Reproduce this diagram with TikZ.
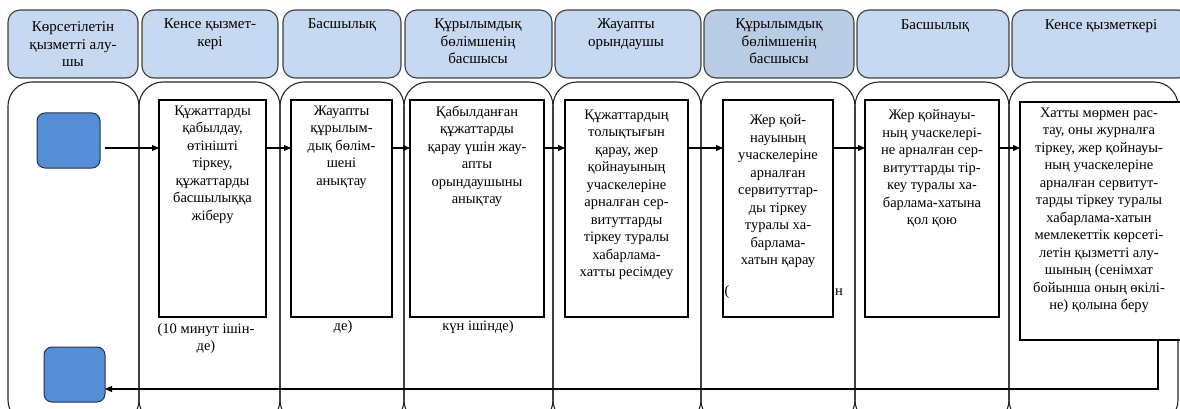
\documentclass[tikz,border=0pt]{standalone}
\usepackage{fontspec}
\setmainfont{Liberation Serif}
\newfontfamily\tnr{Liberation Serif}
\usetikzlibrary{arrows.meta,calc}
\definecolor{hdrfill}{RGB}{198,217,241}
\definecolor{hdrfillB}{RGB}{184,204,228}
\definecolor{sqfill}{RGB}{85,142,213}
\definecolor{sqdraw}{RGB}{35,50,80}
\definecolor{hdrdraw}{RGB}{64,64,64}
\begin{document}
\begin{tikzpicture}[x=1pt,y=-1pt,
  every node/.style={inner sep=0pt, outer sep=0pt},
  lane/.style={draw=black!85, line width=1.1pt, rounded corners=24pt},
  hdr/.style={draw=hdrdraw, fill=hdrfill, line width=1.1pt, rounded corners=12pt},
  txt/.style={font=\tnr\fontsize{14.5}{17.5}\selectfont, align=center, anchor=north},
  htxt/.style={font=\tnr\fontsize{15}{17.5}\selectfont, align=center, anchor=north},
  stepbox/.style={draw=black, fill=white, line width=1.2pt},
  sq/.style={draw=sqdraw, fill=sqfill, line width=1pt, rounded corners=8pt},
  arr/.style={draw=black, line width=1.1pt, -{Triangle[length=7pt,width=6pt]}}
]
\useasboundingbox (0,0) rectangle (1180,409);
\clip (0,0) rectangle (1180,409);
\fill[white] (0,0) rectangle (1180,409);

% lanes
\draw[lane] (8,82) rectangle (139,424);
\draw[lane] (139,82) rectangle (280,424);
\draw[lane] (280,82) rectangle (404,424);
\draw[lane] (404,82) rectangle (553,424);
\draw[lane] (553,82) rectangle (701,424);
\draw[lane] (701,82) rectangle (855,424);
\draw[lane] (855,82) rectangle (1009,424);
\draw[lane] (1009,82) rectangle (1178,424);

% headers
\draw[hdr] (8,10) rectangle (138,78);
\draw[hdr] (142,10) rectangle (278,78);
\draw[hdr] (283,10) rectangle (401,78);
\draw[hdr] (405,10) rectangle (552,78);
\draw[hdr] (555,10) rectangle (701,78);
\draw[hdr, fill=hdrfillB] (704,10) rectangle (854,78);
\draw[hdr] (857,10) rectangle (1009,78);
\draw[hdr] (1012,10) rectangle (1190,78);

\node[htxt] (h1) at (73,22) {Көрсетілетін\\қызметті алу-\\шы};
\node[htxt] (h2) at (210,19) {Кенсе қызмет-\\кері};
\node[htxt] (h3) at (342,19) {Басшылық};
\node[htxt] (h4) at (478,19) {Құрылымдық\\бөлімшенің\\басшысы};
\node[htxt] (h5) at (626,19) {Жауапты\\орындаушы};
\node[htxt] (h6) at (779,19) {Құрылымдық\\бөлімшенің\\басшысы};
\node[htxt] (h7) at (935,20) {Басшылық};
\node[htxt] (h8) at (1101,20) {Кенсе қызметкері};

% squares
\node[sq, minimum width=63pt, minimum height=55pt] (sq1) at (68.5,140.5) {};
\node[sq, minimum width=61pt, minimum height=55pt] (sq2) at (74.5,374.5) {};

% texts below boxes (partly hidden)
\node[txt] (n2) at (206,323) {(10 минут ішін-\\де)};
\node[txt] (n3) at (343,320) {де)};
\node[txt] (n4) at (478,320) {күн ішінде)};

% step boxes
\node[stepbox, minimum width=107pt, minimum height=217pt] (b2) at (212.5,208.5) {};
\node[stepbox, minimum width=101pt, minimum height=217pt] (b3) at (341.5,208.5) {};
\node[stepbox, minimum width=134pt, minimum height=217pt] (b4) at (477,208.5) {};
\node[stepbox, minimum width=123pt, minimum height=217pt] (b5) at (626.5,208.5) {};
\node[stepbox, minimum width=110pt, minimum height=217pt] (b6) at (778,208.5) {};
\node[stepbox, minimum width=134pt, minimum height=217pt] (b7) at (932,208.5) {};
\node[stepbox, minimum width=164pt, minimum height=238pt] (b8) at (1102,221) {};

% fragments of a hidden text beside box 6
\node[txt, anchor=center] (f1) at (727,292) {(};
\node[txt, anchor=center] (f2) at (839,292) {н};

\node[txt] (t2) at (212.5,106) {Құжаттарды\\қабылдау,\\өтінішті\\тіркеу,\\құжаттарды\\басшылыққа\\жіберу};
\node[txt] (t3) at (341.5,106) {Жауапты\\құрылым-\\дық бөлім-\\шені\\анықтау};
\node[txt] (t4) at (477,106) {Қабылданған\\құжаттарды\\қарау үшін жау-\\апты\\орындаушыны\\анықтау};
\node[txt] (t5) at (626.5,110) {Құжаттардың\\толықтығын\\қарау, жер\\қойнауының\\учаскелеріне\\арналған сер-\\витуттарды\\тіркеу туралы\\хабарлама-\\хатты ресімдеу};
\node[txt] (t6) at (778,115) {Жер қой-\\науының\\учаскелеріне\\арналған\\сервитуттар-\\ды тіркеу\\туралы ха-\\барлама-\\хатын қарау};
\node[txt] (t7) at (932,110) {Жер қойнауы-\\ның учаскелері-\\не арналған сер-\\витуттарды тір-\\кеу туралы ха-\\барлама-хатына\\қол қою};
\node[txt] (t8) at (1099,108) {Хатты мөрмен рас-\\тау, оны журналға\\тіркеу, жер қойнауы-\\ның учаскелеріне\\арналған сервитут-\\тарды тіркеу туралы\\хабарлама-хатын\\мемлекеттік көрсеті-\\летін қызметті алу-\\шының (сенімхат\\бойынша оның өкілі-\\не) қолына беру};

% connectors
\coordinate (r) at (0,148);
\coordinate (s1) at ([xshift=5pt]sq1.east);
\draw[arr] (s1 |- r) -- (b2.west |- r);
\draw[arr] (b2.east |- r) -- (b3.west |- r);
\draw[arr] (b3.east |- r) -- (b4.west |- r);
\draw[arr] (b4.east |- r) -- (b5.west |- r);
\draw[arr] (b5.east |- r) -- (b6.west |- r);
\draw[arr] (b6.east |- r) -- (b7.west |- r);
\draw[arr] (b7.east |- r) -- (b8.west |- r);
\coordinate (c1) at (1158,389);
\draw[arr] (b8.south -| c1) -- (c1) -- (c1 -| sq2.east);
\end{tikzpicture}
\end{document}
